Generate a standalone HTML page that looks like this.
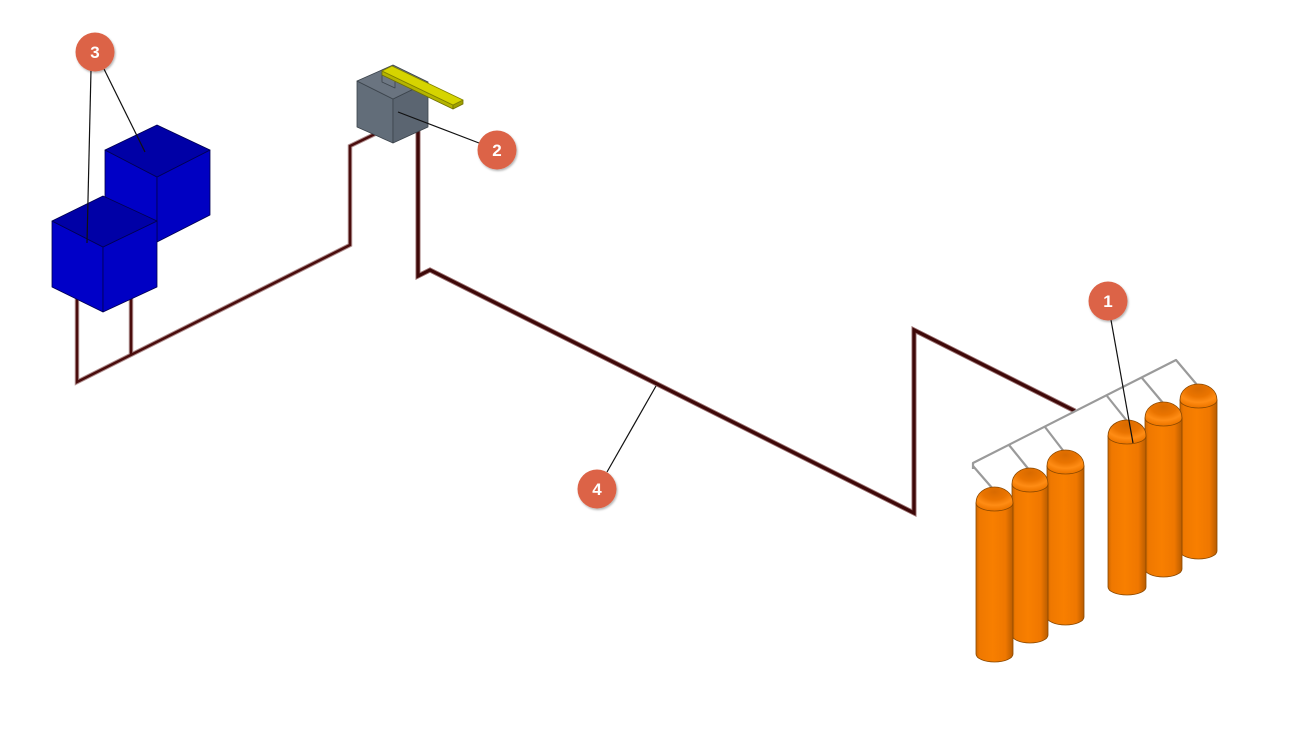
<!DOCTYPE html>
<html><head><meta charset="utf-8"><style>
html,body{margin:0;padding:0;background:#fff;}
svg{display:block;}
text{font-family:"Liberation Sans",sans-serif;font-weight:bold;}
</style></head><body>
<svg width="1290" height="748" viewBox="0 0 1290 748" xmlns="http://www.w3.org/2000/svg">
<defs>
<linearGradient id="body" x1="0" x2="1" y1="0" y2="0">
<stop offset="0" stop-color="#cf6800"/>
<stop offset="0.1" stop-color="#ef7800"/>
<stop offset="0.45" stop-color="#f87f00"/>
<stop offset="0.8" stop-color="#ef7700"/>
<stop offset="1" stop-color="#b85c00"/>
</linearGradient>
<radialGradient id="dome" cx="0.5" cy="0.2" r="0.75">
<stop offset="0" stop-color="#d86a00"/>
<stop offset="0.45" stop-color="#ea7400"/>
<stop offset="0.75" stop-color="#ff8c14"/>
<stop offset="1" stop-color="#f07800"/>
</radialGradient>
<filter id="sh" x="-30%" y="-30%" width="160%" height="160%">
<feDropShadow dx="1" dy="1.5" stdDeviation="1" flood-color="#000" flood-opacity="0.3"/>
</filter>
</defs>

<!-- Left pipes -->
<g fill="none" stroke-linejoin="miter">
<path d="M375,134 L350,146 L350,245 L77,382 L77,298 M131,298 L131,354" stroke="#b09090" stroke-width="4.5"/>
<path d="M375,134 L350,146 L350,245 L77,382 L77,298 M131,298 L131,354" stroke="#4a0c0c" stroke-width="2.5"/>
<!-- Pipe 4 -->
<path d="M1075,411 L914,330 L914,513 L430,270 L418,276 L418,130" stroke="#9a7070" stroke-width="5"/>
<path d="M1075,411 L914,330 L914,513 L430,270 L418,276 L418,130" stroke="#3e0808" stroke-width="3.2"/>
</g>

<!-- Blue cubes -->
<g stroke="#000050" stroke-width="0.8" stroke-linejoin="round">
<polygon points="105,150 157,177 157,242 105,215" fill="#0000c6"/>
<polygon points="157,177 210,150 210,215 157,242" fill="#0000c2"/>
<polygon points="105,150 157,125 210,150 157,177" fill="#0000a6"/>
<polygon points="52,221 103,247 103,312 52,287" fill="#0000c8"/>
<polygon points="103,247 157,221 157,287 103,312" fill="#0000c4"/>
<polygon points="52,221 103,196 157,221 103,247" fill="#0000a6"/>
</g>

<!-- Unit 2 -->
<g stroke="#3c444c" stroke-width="0.8" stroke-linejoin="round">
<polygon points="357,81 393,99 393,143 357,127" fill="#626d79"/>
<polygon points="393,99 428,82 428,127 393,143" fill="#5b6571"/>
<polygon points="357,81 393,65 428,82 393,99" fill="#6a7480"/>
<polygon points="382,73 395,79 395,88 382,82" fill="#6e7884"/>
<polygon points="382,71 453,105 453,109 382,75" fill="#b4b400" stroke="#707000"/>
<polygon points="453,105 463,100 463,104 453,109" fill="#a0a000" stroke="#707000"/>
<polygon points="382,71 392,66 463,100 453,105" fill="#d6d400" stroke="#808000"/>
</g>

<!-- Manifold -->
<g fill="none" stroke="#9a9a9a" stroke-width="2.2" stroke-linejoin="round">
<path d="M973,469 L973,463 L1176,360 L1198,386"/>
<path d="M973,466 L993,489"/>
<path d="M1009,445 L1030,471"/>
<path d="M1045,427 L1065,453"/>
<path d="M1107,396 L1127,421"/>
<path d="M1142,378 L1163,403"/>
</g>

<!-- Cylinders (back to front) -->
<g stroke="#8a4800" stroke-width="0.8">
<!-- 6 -->
<path d="M1180,400 L1180,551 A18.5,8 0 0 0 1217,551 L1217,400 Z" fill="url(#body)"/>
<path d="M1180,400 C1180,390 1189,384 1198.5,384 C1208,384 1217,390 1217,400 A18.5,8 0 0 1 1180,400 Z" fill="url(#dome)"/>
<!-- 5 -->
<path d="M1145,418 L1145,569 A18.5,8 0 0 0 1182,569 L1182,418 Z" fill="url(#body)"/>
<path d="M1145,418 C1145,408 1154,402 1163.5,402 C1173,402 1182,408 1182,418 A18.5,8 0 0 1 1145,418 Z" fill="url(#dome)"/>
<!-- 4 -->
<path d="M1108,436 L1108,587 A19,8 0 0 0 1146,587 L1146,436 Z" fill="url(#body)"/>
<path d="M1108,436 C1108,426 1117,420 1127,420 C1137,420 1146,426 1146,436 A19,8 0 0 1 1108,436 Z" fill="url(#dome)"/>
<!-- 3 -->
<path d="M1047,466 L1047,617 A18.5,8 0 0 0 1084,617 L1084,466 Z" fill="url(#body)"/>
<path d="M1047,466 C1047,456 1056,450 1065.5,450 C1075,450 1084,456 1084,466 A18.5,8 0 0 1 1047,466 Z" fill="url(#dome)"/>
<!-- 2 -->
<path d="M1012,484 L1012,635 A18,8 0 0 0 1048,635 L1048,484 Z" fill="url(#body)"/>
<path d="M1012,484 C1012,474 1021,468 1030,468 C1039,468 1048,474 1048,484 A18,8 0 0 1 1012,484 Z" fill="url(#dome)"/>
<!-- 1 -->
<path d="M976,503 L976,654 A18.5,8 0 0 0 1013,654 L1013,503 Z" fill="url(#body)"/>
<path d="M976,503 C976,493 985,487 994.5,487 C1004,487 1013,493 1013,503 A18.5,8 0 0 1 976,503 Z" fill="url(#dome)"/>
</g>

<!-- Callout lines -->
<g stroke="#111" stroke-width="1.2" fill="none">
<path d="M91,70 L87,243"/>
<path d="M104,69 L145,152"/>
<path d="M479,143 L398,112"/>
<path d="M1111,320 L1133,443"/>
<path d="M607,472 L656,386"/>
</g>

<!-- Callout circles -->
<g filter="url(#sh)" fill="#dc6447">
<circle cx="95" cy="52" r="19.5"/>
<circle cx="497" cy="150" r="19.5"/>
<circle cx="1108" cy="301" r="19.5"/>
<circle cx="597" cy="489" r="19.5"/>
</g>
<g fill="#fff" font-size="17" text-anchor="middle">
<text x="95" y="58">3</text>
<text x="497" y="156">2</text>
<text x="1108" y="307">1</text>
<text x="597" y="495">4</text>
</g>
</svg>
</body></html>
